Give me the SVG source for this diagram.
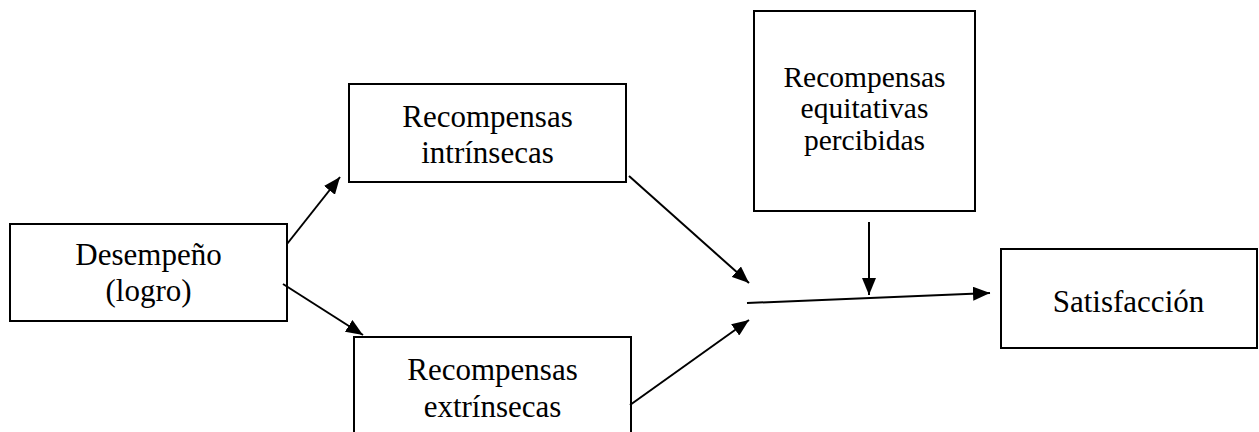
<svg xmlns="http://www.w3.org/2000/svg" width="1259" height="432" viewBox="0 0 1259 432">
<style>
.box{fill:#fff;stroke:#000;stroke-width:2}
.t{font-family:"Liberation Serif","Times New Roman",serif;font-size:31px;fill:#000;text-anchor:middle}
.ts{font-family:"Liberation Serif","Times New Roman",serif;font-size:29.5px;fill:#000;text-anchor:middle}
.c{stroke:#000;stroke-width:2;fill:none;marker-end:url(#ah)}
</style>
<defs>
<marker id="ah" markerUnits="userSpaceOnUse" markerWidth="17" markerHeight="14" refX="17" refY="7" orient="auto">
<path d="M0,0 L17,7 L0,14 z" fill="#000"/>
</marker>
</defs>
<rect width="1259" height="432" fill="#fff"/>
<g id="desempeno">
<rect class="box" x="10" y="224" width="277" height="97"/>
<text class="t" x="148.5" y="265">Desempeño</text>
<text class="t" x="148.5" y="301">(logro)</text>
</g>
<g id="intrinsecas">
<rect class="box" x="349" y="84" width="277" height="98"/>
<text class="t" x="487.5" y="127">Recompensas</text>
<text class="t" x="487.5" y="163">intrínsecas</text>
</g>
<g id="extrinsecas">
<rect class="box" x="354" y="337" width="277" height="100"/>
<text class="t" x="492.5" y="380">Recompensas</text>
<text class="t" x="492.5" y="417">extrínsecas</text>
</g>
<g id="equitativas">
<rect class="box" x="754" y="11" width="221" height="200"/>
<text class="ts" x="864.5" y="87">Recompensas</text>
<text class="ts" x="864.5" y="118">equitativas</text>
<text class="ts" x="864.5" y="150">percibidas</text>
</g>
<g id="satisfaccion">
<rect class="box" x="1001" y="249" width="256" height="99"/>
<text class="t" x="1128.5" y="312">Satisfacción</text>
</g>
<g id="connectors">
<line class="c" x1="287" y1="244" x2="340" y2="177"/>
<line class="c" x1="283" y1="284" x2="363" y2="335"/>
<line class="c" x1="629" y1="176" x2="749" y2="283"/>
<line class="c" x1="630" y1="405" x2="749" y2="320"/>
<line class="c" x1="747" y1="303" x2="990" y2="293"/>
<line class="c" x1="869" y1="222" x2="869" y2="295"/>
</g>
</svg>
